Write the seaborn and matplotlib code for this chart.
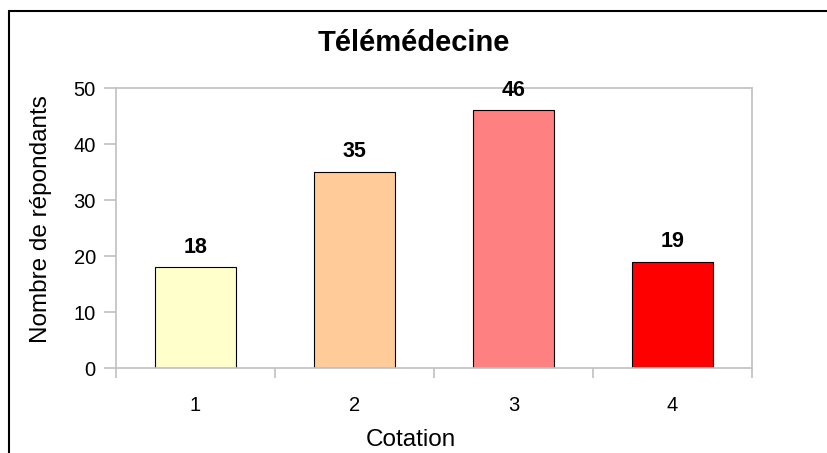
import matplotlib
matplotlib.use("Agg")
import matplotlib.pyplot as plt
import seaborn as sns
import pandas as pd
from matplotlib.lines import Line2D

categories = ["1", "2", "3", "4"]
values = [18, 35, 46, 19]
colors = ["#FFFFCC", "#FFCC99", "#FF8080", "#FF0000"]
title = "Télémédecine"
xlabel = "Cotation"
ylabel = "Nombre de répondants"
yticks = [0, 10, 20, 30, 40, 50]

sns.set_style("white")
plt.rcParams['font.family'] = ['Liberation Sans', 'DejaVu Sans']
plt.rcParams['text.color'] = 'black'
plt.rcParams['axes.labelcolor'] = 'black'

df = pd.DataFrame({"cat": categories, "val": values})

fig = plt.figure(figsize=(8.27, 4.53), dpi=100)
ax = fig.add_axes([116/827, 1-368/453, (752-116)/827, (368-88)/453])

sns.barplot(data=df, x="cat", y="val", hue="cat", palette=colors, legend=False,
            width=0.51, edgecolor="black", linewidth=0.8, ax=ax, saturation=1)

ax.set_xlim(-0.5, 3.5)
ax.set_ylim(0, 50)
ax.set_yticks(yticks)
for s in ax.spines.values():
    s.set_color("#C0C0C0")
    s.set_linewidth(1.2)
ax.tick_params(axis="y", which="major", length=8.5, color="#C0C0C0", width=1.2,
               labelsize=14.5, pad=6, left=True, labelcolor="black")
ax.tick_params(axis="x", which="major", length=0, labelsize=14.5, pad=20, labelcolor="black")
ax.set_xticks([-0.5, 0.5, 1.5, 2.5, 3.5], minor=True)
ax.tick_params(axis="x", which="minor", length=7, color="#C0C0C0", width=1.2, bottom=True)

for i, v in enumerate(values):
    ax.text(i, v + 1.7, str(v), ha="center", va="bottom", fontsize=15.5,
            fontweight="bold", color="black")

ax.set_xlabel(xlabel, fontsize=17.5)
ax.set_ylabel(ylabel, fontsize=17.5)
ax.xaxis.set_label_coords((411-116)/(752-116), -(440-368)/(368-88))
ax.yaxis.set_label_coords(-(116-41)/(752-116), (368-219)/(368-88))
ax.xaxis.label.set_va("center")
ax.yaxis.label.set_va("center")
fig.text(0.5, 1-43/453, title, ha="center", va="center", fontsize=21, fontweight="bold")

fig.add_artist(Line2D([9/827, 9/827], [-0.1, 1-11/453], color="black", lw=1.5, transform=fig.transFigure))
fig.add_artist(Line2D([9/827, 1.1], [1-11/453, 1-11/453], color="black", lw=1.5, transform=fig.transFigure))

fig.savefig("out.png", dpi=100)
